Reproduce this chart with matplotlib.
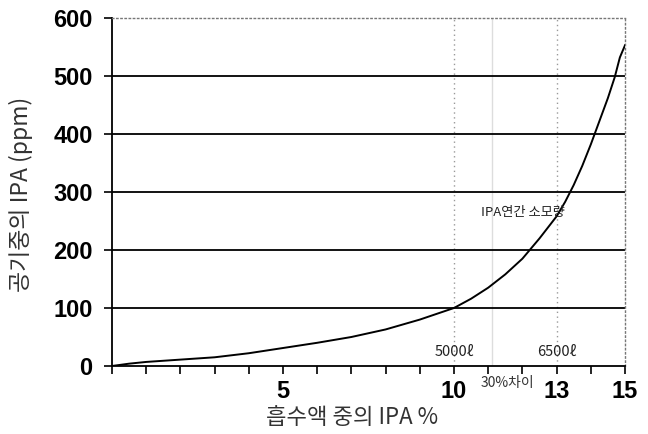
import matplotlib
matplotlib.use("Agg")
import matplotlib.pyplot as plt
import numpy as np

# data
ipa_pct = [0, 0.5, 1, 2, 3, 4, 5, 6, 7, 8, 9, 10, 10.5, 11, 11.5, 12, 12.5, 13,
           13.25, 13.5, 13.75, 14, 14.25, 14.5, 14.7, 14.85, 15]
air_ppm = [0, 4, 7, 11, 15, 22, 31, 40, 50, 63, 80, 100, 116, 135, 158, 185, 220, 258,
           283, 312, 345, 382, 422, 462, 498, 532, 553]
x_tick_labels = {5: "5", 10: "10", 13: "13", 15: "15"}
y_ticks = [0, 100, 200, 300, 400, 500, 600]
volume_labels = ["5000ℓ", "6500ℓ"]
volume_x = [10, 13]

fam = ["Noto Sans CJK KR", "DejaVu Sans"]

fig = plt.figure(figsize=(6.48, 4.34), dpi=100)
ax = fig.add_axes([0.1728, 0.1567, 0.7917, 0.8018])

ax.set_xlim(0, 15)
ax.set_ylim(0, 600)

# horizontal grid lines
for yv in y_ticks[1:-1]:
    ax.axhline(yv, color="black", lw=1.3, zorder=2)

# vertical reference lines
for xv in [10, 13]:
    ax.axvline(xv, color="#999999", lw=1.0, ls=(0, (1, 2.5)), zorder=1)
ax.axvline(11.1, color="#dddddd", lw=1.0, zorder=1)

ax.plot(ipa_pct, air_ppm, color="black", lw=1.4, zorder=3, solid_joinstyle="round")

# spines
ax.spines["left"].set_linewidth(1.3)
ax.spines["bottom"].set_linewidth(1.3)
for s in ["top", "right"]:
    ax.spines[s].set_linestyle((0, (1, 2)))
    ax.spines[s].set_color("#777777")
    ax.spines[s].set_linewidth(1.0)

ax.set_yticks(y_ticks)
ax.set_yticklabels([str(v) for v in y_ticks], fontsize=17, fontweight="bold",
                   family="Liberation Sans")
ax.set_xticks(np.arange(0, 16, 1))
ax.set_xticklabels([x_tick_labels.get(int(t), "") for t in np.arange(0, 16, 1)],
                   fontsize=17, fontweight="bold", family="Liberation Sans")
ax.tick_params(axis="both", direction="out", length=6, width=1.2, color="black")
ax.tick_params(axis="y", pad=8)
ax.tick_params(axis="x", pad=4)

for lbl, xv in zip(volume_labels, volume_x):
    ax.text(xv, 24, lbl, ha="center", va="center", fontsize=10.5, family=fam, color="#222222")

ax.text(10.8, 264, "IPA연간 소모량", ha="left", va="center", fontsize=9.5, family=fam, color="#222222")
ax.text(11.55, -30, "30%차이", ha="center", va="center", fontsize=10, family=fam,
        color="#333333", clip_on=False)

fig.text(352 / 648, 1 - 418 / 434, "흡수액 중의 IPA %", ha="center", va="center",
         fontsize=16, family=fam, color="#333333")
fig.text(21 / 648, 1 - 194 / 434, "공기중의 IPA (ppm)", ha="center", va="center",
         rotation=90, fontsize=16.5, family=fam, color="#333333")

fig.savefig("out.png", dpi=100)
